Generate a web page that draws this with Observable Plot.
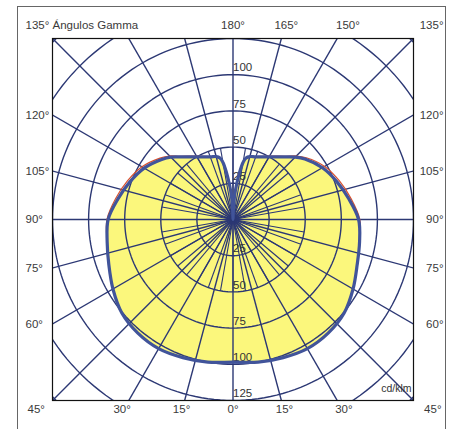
<!DOCTYPE html>
<html><head><meta charset="utf-8">
<script src="https://cdn.jsdelivr.net/npm/d3@7"></script>
<script src="https://cdn.jsdelivr.net/npm/@observablehq/plot@0.6"></script>
<style>body{margin:0;background:#fff;} svg{display:block}</style>
</head><body><div id="chart"></div>
<script>
// Gamma angles (degrees, 0 = straight down, 180 = straight up)
const gammaAngles = [0,10,20,30,40,50,60,70,80,90,100,110,120,130,135,140,150,160,165,168,170,172,174,176,178,180];
// Luminous intensity, cd/klm – C90/C270 plane (blue)
const blueRight = [98.5,100,101.5,103,102.5,100.5,96,91.5,89,87,81.5,76.5,71.5,65,61,56.5,50,46,45,43.5,40,33,25,17,8,0];
const blueLeft  = [98.5,100,101.5,103,102.5,100.5,96,91.5,88.5,86.5,81,76,71,64.5,61,56.5,50,46,45,43.5,40,33,25,17,8,0];
// C0/C180 plane (red)
const redRight  = [98.5,100,101.5,103,102.5,100.5,96,91.5,89,87.8,83,78.3,73.3,66.3,62,57,50.5,46.3,45.2,43.5,40,33,25,17,8,0];
const redLeft   = [98.5,100,101.5,103,102.5,100.5,96,91.5,88.5,87.3,82.6,77.8,72.8,66,62,57,50.5,46.3,45.2,43.5,40,33,25,17,8,0];

const ringValues = [25,50,75,100,125,150,175];
const ringLabelsTop = [25,50,75,100];
const ringLabelsBottom = [25,50,75,100,125];
const spokeAngles = d3.range(0,360,15);
const innerSpokeAngles = d3.range(0,360,10);
const topLabelAngles = [180,165,150];
const sideLabelAngles = [120,105,90,75,60];
const bottomLabelAngles = [-30,-15,0,15,30];
const unitLabel = "cd/klm";
const cornerLabel = "135° Ángulos Gamma";

const rad = d => d*Math.PI/180;
function curve(right,left){
  const pts=[];
  gammaAngles.forEach((g,i)=>pts.push({x: right[i]*Math.sin(rad(g)), y: -right[i]*Math.cos(rad(g))}));
  // left side back down, skipping duplicated 180° and 0° points (closed curve)
  for(let i=gammaAngles.length-2;i>=1;i--){const g=gammaAngles[i];pts.push({x:-left[i]*Math.sin(rad(g)), y:-left[i]*Math.cos(rad(g))});}
  return pts;
}
const blue = curve(blueRight, blueLeft);
const red = curve(redRight, redLeft);

const rings = ringValues.flatMap(r => d3.range(0,361,2).map(a => ({r, x: r*Math.cos(rad(a)), y: r*Math.sin(rad(a))})));
const spokes = spokeAngles.map(a => ({x: 260*Math.sin(rad(a)), y: 260*Math.cos(rad(a))}));
const innerSpokes = innerSpokeAngles.map(a => ({x: 50*Math.sin(rad(a)), y: 50*Math.cos(rad(a))}));

const font = "Liberation Sans, Arial, sans-serif";
const txt = "#3a3a3a";
const grid = "#2c3874";
const topD = 137.8, botD = 133;

const chart = Plot.plot({
  width: 454, height: 429,
  marginLeft: 52, marginRight: 41, marginTop: 38, marginBottom: 29,
  x: {domain: [-125,125], axis: null},
  y: {domain: [-125,125], axis: null},
  style: {fontFamily: font, fontSize: "11.5px", background: "#fff"},
  marks: [
    Plot.line(blue, {x:"x", y:"y", fill:"#fbf77c", stroke:"none", curve: "catmull-rom-closed"}),
    Plot.line(rings, {x:"x", y:"y", z:"r", stroke: grid, strokeWidth: 1.4, clip: true}),
    Plot.link(spokes, {x1: 0, y1: 0, x2: "x", y2: "y", stroke: grid, strokeWidth: 1.4, clip: true}),
    Plot.link(innerSpokes, {x1: 0, y1: 0, x2: "x", y2: "y", stroke: grid, strokeWidth: 1.1, clip: true}),
    Plot.frame({stroke: "#111", strokeWidth: 1.2}),
    Plot.frame({stroke: "#666", insetLeft: -35, insetTop: -32, insetRight: -32, insetBottom: -31}),
    Plot.text(ringLabelsTop, {x: 0, y: d => d, text: d => String(d), textAnchor: "start", dx: 0, dy: -7, fill: "#333", fontSize: 11.5}),
    Plot.text(ringLabelsBottom, {x: 0, y: d => -d, text: d => String(d), textAnchor: "start", dx: 0, dy: -7, fill: "#333", fontSize: 11.5}),
    Plot.line(red, {x:"x", y:"y", stroke:"#d9502c", strokeWidth: 1.2, strokeLinejoin: "round", curve: "catmull-rom-closed"}),
    Plot.line(blue, {x:"x", y:"y", stroke:"#41549a", strokeWidth: 3.2, strokeLinejoin: "round", curve: "catmull-rom-closed"}),
    Plot.text(topLabelAngles, {x: d => topD*Math.tan(rad(180-d)), frameAnchor: "top", dy: -18, text: d => d+"°", fill: txt}),
    Plot.text([cornerLabel], {frameAnchor: "top-left", dx: -27, dy: -18, textAnchor: "start", text: d => d, fill: txt}),
    Plot.text(["135°"], {frameAnchor: "top-right", dx: 30, dy: -18, textAnchor: "end", text: d => d, fill: txt}),
    Plot.text(sideLabelAngles, {y: d => 125*Math.tan(rad(d-90)), frameAnchor: "left", dx: -27, textAnchor: "start", text: d => d+"°", fill: txt}),
    Plot.text(sideLabelAngles, {y: d => 125*Math.tan(rad(d-90)), frameAnchor: "right", dx: 30, textAnchor: "end", text: d => d+"°", fill: txt}),
    Plot.text(bottomLabelAngles, {x: d => botD*Math.tan(rad(d)), frameAnchor: "bottom", dy: 12, text: d => Math.abs(d)+"°", fill: txt}),
    Plot.text(["45°"], {frameAnchor: "bottom-left", dx: -25, dy: 12, textAnchor: "start", text: d => d, fill: txt}),
    Plot.text(["45°"], {frameAnchor: "bottom-right", dx: 28, dy: 12, textAnchor: "end", text: d => d, fill: txt}),
    Plot.text([unitLabel], {frameAnchor: "bottom-right", dx: -2, dy: -9, textAnchor: "end", text: d => d, fill: "#333", fontSize: 10.5})
  ]
});
document.getElementById("chart").appendChild(chart);
</script>
</body></html>
